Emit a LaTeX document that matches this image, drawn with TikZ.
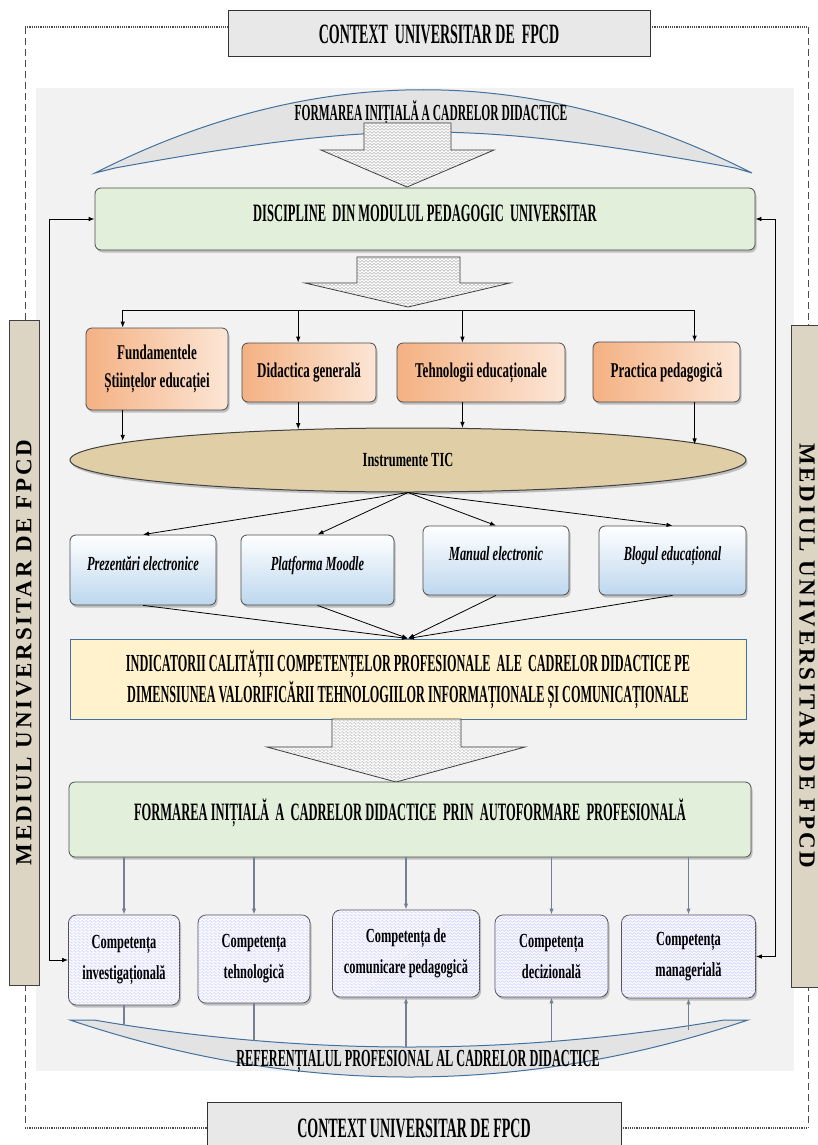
\documentclass[tikz,border=0pt]{standalone}
\usepackage{fontspec}
\setmainfont{Liberation Serif}
\newfontfamily\capsfont{Liberation Serif}[FakeStretch=0.5]
\newfontfamily\txtfont{Liberation Serif}[FakeStretch=0.62]
\newfontfamily\sidefont{Liberation Serif}[LetterSpace=12]
\usetikzlibrary{calc,arrows.meta,shapes.geometric,shadows,patterns}

\definecolor{grnfill}{RGB}{226,239,218}
\definecolor{oradark}{RGB}{244,177,131}
\definecolor{oralight}{RGB}{252,230,214}
\definecolor{blulight}{RGB}{189,215,238}
\definecolor{ylwfill}{RGB}{255,242,204}
\definecolor{ticfill}{RGB}{224,206,166}
\definecolor{sidefill}{RGB}{221,213,196}
\definecolor{arcline}{RGB}{65,113,156}
\definecolor{linkgray}{RGB}{118,128,148}

\pgfdeclarepatternformonly{zigzag}{\pgfqpoint{-1pt}{-1pt}}{\pgfqpoint{5pt}{4pt}}{\pgfqpoint{4pt}{3pt}}{%
  \pgfsetlinewidth{0.35pt}
  \pgfpathmoveto{\pgfqpoint{0pt}{0.5pt}}
  \pgfpathlineto{\pgfqpoint{2pt}{2.5pt}}
  \pgfpathlineto{\pgfqpoint{4pt}{0.5pt}}
  \pgfusepath{stroke}}

\begin{document}
\begin{tikzpicture}
[x=1pt, y=-1pt,
ctx/.style={rectangle, draw=black!80, line width=1pt, fill=gray!18, inner sep=0pt, font=\capsfont\bfseries\fontsize{28}{30}\selectfont},
side/.style={rectangle, draw=black!75, line width=1pt, fill=sidefill, minimum height=30pt, inner sep=0pt, font=\sidefont\bfseries\fontsize{23}{25}\selectfont},
gbox/.style={rectangle, rounded corners=6pt, draw=black!70, line width=0.8pt, fill=grnfill, drop shadow={opacity=.45, shadow xshift=1.5pt, shadow yshift=-2.5pt}, font=\capsfont\bfseries\fontsize{25}{28}\selectfont},
obox/.style={rectangle, rounded corners=6pt, draw=black!70, line width=0.8pt, left color=oradark, right color=oralight, drop shadow={opacity=.45, shadow xshift=1.5pt, shadow yshift=-2.5pt}, align=center, font=\txtfont\bfseries\fontsize{21}{28}\selectfont},
bbox/.style={rectangle, rounded corners=6pt, draw=black!70, line width=0.8pt, top color=white, bottom color=blulight, drop shadow={opacity=.45, shadow xshift=1.5pt, shadow yshift=-2.5pt}, text depth=14pt, font=\txtfont\bfseries\itshape\fontsize{20}{24}\selectfont},
cbox/.style={rectangle, rounded corners=8pt, draw=black!70, line width=0.8pt, fill=white, postaction={pattern=zigzag, pattern color=blue!30}, drop shadow={opacity=.45, shadow xshift=1.5pt, shadow yshift=-2.5pt}, align=center, font=\txtfont\bfseries\fontsize{20}{31}\selectfont},
band/.style={draw=arcline, line width=1pt, fill=gray!22},
bigarr/.style={draw=black!80, line width=0.8pt, fill=white, postaction={pattern=zigzag, pattern color=gray!80}},
link/.style={->, line width=0.8pt},
glink/.style={draw=linkgray, line width=1.3pt},
>/.tip={Latex[length=6pt, width=4.5pt]}]

	\useasboundingbox (0,0) rectangle (817,1145);

	% frame of the university context
	\draw[black!70, dash pattern=on 7pt off 4pt] (25,27) -- (25,1128);
	\draw[black!70, dash pattern=on 7pt off 4pt] (808,27) -- (808,1128);
	\draw[black!70, line width=1.2pt, densely dotted] (25,27) -- (228,27) (650,27) -- (808,27);
	\draw[black!70, line width=1.2pt, densely dotted] (25,1128) -- (207,1128) (621,1128) -- (808,1128);

	\node (ctxT) at (439,34) [ctx, minimum width=422pt, minimum height=46pt]{CONTEXT\ \ UNIVERSITAR DE\ \ FPCD};
	\node (ctxB) at (414,1128.5) [ctx, minimum width=414pt, minimum height=53pt]{CONTEXT UNIVERSITAR DE FPCD};

	\fill[black!5] (36,88) rectangle (794,1071);

	\node (medL) at (24,652.5) [side, rotate=90, minimum width=665pt]{MEDIUL UNIVERSITAR DE FPCD};
	\node (medR) at (807,656) [side, rotate=-90, minimum width=662pt, minimum height=32pt]{MEDIUL UNIVERSITAR DE FPCD};

	% initial training arc
	\draw[band] (95,173) .. controls (314,62) and (533,62) .. (752,173) -- (735,168) .. controls (470,120) and (380,120) .. (115,168) -- cycle;
	\node (fit) at (431,113) [font=\capsfont\bfseries\fontsize{23}{25}\selectfont]{FORMAREA INIȚIALĂ A CADRELOR DIDACTICE};
	\draw[bigarr] (364,123) -- (451,123) -- (451,150) -- (494,150) -- (407,187) -- (321,150) -- (364,150) -- cycle;

	\node (disc) at (425,219) [gbox, minimum width=660pt, minimum height=62pt, text depth=11pt]{DISCIPLINE\ \ DIN MODULUL PEDAGOGIC\ \ UNIVERSITAR};
	\draw[bigarr] (357,257) -- (460,257) -- (460,283) -- (510,283) -- (408,307) -- (305,283) -- (357,283) -- cycle;

	\node (fund) at (157,369) [obox, minimum width=142pt, minimum height=82pt]{Fundamentele\\ Științelor educației};
	\node (did) at (309,372.5) [obox, minimum width=134pt, minimum height=59pt]{Didactica generală};
	\node (teh) at (481,372.5) [obox, minimum width=168pt, minimum height=59pt]{Tehnologii educaționale};
	\node (prac) at (666.5,372) [obox, minimum width=147pt, minimum height=60pt]{Practica pedagogică};

	\node (tic) at (408,460) [ellipse, draw=black!75, line width=1pt, fill=ticfill, minimum width=676pt, minimum height=64pt, drop shadow={opacity=.45, shadow xshift=1.5pt, shadow yshift=-2.5pt}, font=\txtfont\bfseries\fontsize{20}{24}\selectfont]{Instrumente TIC};

	\coordinate (bus) at (407,310);
	\coordinate (fundx) at ($(fund.north west)!0.26!(fund.north east)$);
	\coordinate (didx) at ($(did.north west)!0.42!(did.north east)$);
	\coordinate (tehx) at ($(teh.north west)!0.39!(teh.north east)$);
	\coordinate (pracx) at ($(prac.north west)!0.69!(prac.north east)$);

	\draw[line width=0.8pt] (fundx |- bus) -- (pracx |- bus);
	\draw[link] (fundx |- bus) -- (fundx);
	\draw[link] (didx |- bus) -- (didx);
	\draw[link] (tehx |- bus) -- (tehx);
	\draw[link] (pracx |- bus) -- (pracx);

	\draw[link] (fundx |- fund.south) -- (fundx |- tic.176.5);
	\draw[link] (didx |- did.south) -- (didx |- tic.164.6);
	\draw[link] (tehx |- teh.south) -- (tehx |- tic.30.1);
	\draw[link] (pracx |- prac.south) -- (pracx |- tic.3.4);

	\node (prez) at (143,570) [bbox, minimum width=146pt, minimum height=70pt]{Prezentări electronice};
	\node (plat) at (317.5,570) [bbox, minimum width=153pt, minimum height=70pt]{Platforma Moodle};
	\node (man) at (496,560.5) [bbox, minimum width=146pt, minimum height=69pt]{Manual electronic};
	\node (blog) at (672.5,560.5) [bbox, minimum width=147pt, minimum height=69pt]{Blogul educațional};

	\draw[link] (tic.south) -- (prez.north);
	\draw[link] (tic.south) -- (plat.north);
	\draw[link] (tic.south) -- (man.north);
	\draw[link] (tic.south) -- (blog.north);

	\node (ind) at (408,679) [rectangle, draw=arcline, line width=1pt, fill=ylwfill, minimum width=676pt, minimum height=80pt, align=center, font=\capsfont\bfseries\fontsize{24.5}{31}\selectfont]{INDICATORII CALITĂȚII COMPETENȚELOR PROFESIONALE\ \ ALE\ \ CADRELOR DIDACTICE PE\\ DIMENSIUNEA VALORIFICĂRII TEHNOLOGIILOR INFORMAȚIONALE ȘI COMUNICAȚIONALE};

	\draw[link] (prez.south) -- (ind.north);
	\draw[link] (plat.south) -- (ind.north);
	\draw[link] (man.south) -- (ind.north);
	\draw[link] (blog.south) -- (ind.north);

	\draw[bigarr] (332,719) -- (461,719) -- (461,747) -- (525,747) -- (396,782) -- (267,747) -- (332,747) -- cycle;

	\node (form) at (410,819.5) [gbox, minimum width=682pt, minimum height=75pt, text depth=20pt]{FORMAREA INIȚIALĂ\ \ A\ \ CADRELOR DIDACTICE\ \ PRIN\ \ AUTOFORMARE\ \ PROFESIONALĂ};

	\node (c1) at (124,960) [cbox, minimum width=111pt, minimum height=90pt]{Competența\\ investigațională};
	\node (c2) at (254,959) [cbox, minimum width=112pt, minimum height=88pt]{Competența\\ tehnologică};
	\node (c3) at (406,953.5) [cbox, minimum width=147pt, minimum height=87pt]{Competența de\\ comunicare pedagogică};
	\node (c4) at (551.5,956) [cbox, minimum width=113pt, minimum height=82pt]{Competența\\ decizională};
	\node (c5) at (688.5,956.5) [cbox, minimum width=134pt, minimum height=83pt]{Competența\\ managerială};

	\foreach \c in {c1,c2,c3,c4,c5}
		\draw[glink, ->] (\c.north |- form.south) -- (\c.north);

	% professional standard arc
	\draw[band] (70,1020) .. controls (296,1096) and (522,1096) .. (748,1020) -- (724,1020) .. controls (514,1056) and (304,1056) .. (94,1020) -- cycle;
	\coordinate (r1) at (124,1025);
	\coordinate (r2) at (254,1041);
	\coordinate (r3) at (406,1047);
	\coordinate (r4) at (551.5,1042);
	\coordinate (r5) at (688.5,1030);
	\draw[glink] (c1.south) -- (c1.south |- r1);
	\draw[glink] (c2.south) -- (c2.south |- r2);
	\draw[glink, ->] (c3.south |- r3) -- (c3.south);
	\draw[glink, ->] (c4.south |- r4) -- (c4.south);
	\draw[glink, ->] (c5.south |- r5) -- (c5.south);
	\node (ref) at (418,1062) [font=\capsfont\bfseries\fontsize{24.5}{26}\selectfont]{REFERENȚIALUL PROFESIONAL AL CADRELOR DIDACTICE};

	% feedback from the university environment
	\draw[link, <->] (disc.west) -- ++(-45,0) |- (c1.west);
	\draw[link, <->] (disc.east) -- ++(20,0) |- (c5.east);

\end{tikzpicture}
\end{document}
